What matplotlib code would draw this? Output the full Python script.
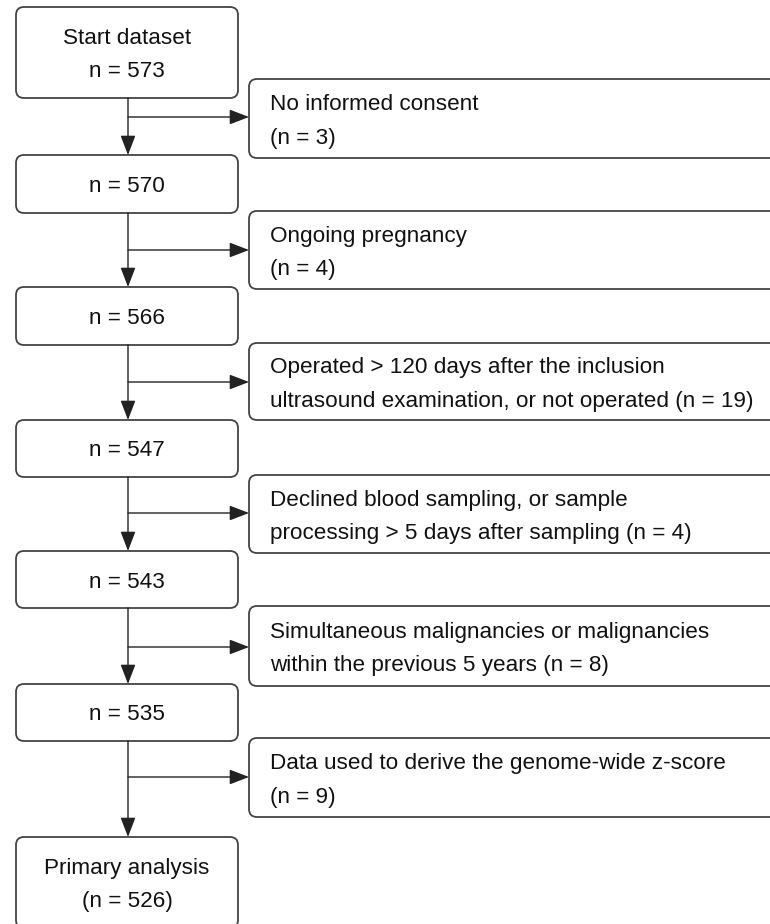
import matplotlib.pyplot as plt
from matplotlib.patches import FancyBboxPatch

# Flow of participants: main boxes on the left, exclusions on the right.
main_labels = ["Start dataset\nn = 573", "n = 570", "n = 566", "n = 547",
               "n = 543", "n = 535", "Primary analysis\n(n = 526)"]
excluded_labels = [
    "No informed consent\n(n = 3)",
    "Ongoing pregnancy\n(n = 4)",
    "Operated > 120 days after the inclusion\nultrasound examination, or not operated (n = 19)",
    "Declined blood sampling, or sample\nprocessing > 5 days after sampling (n = 4)",
    "Simultaneous malignancies or malignancies\nwithin the previous 5 years (n = 8)",
    "Data used to derive the genome-wide z-score\n(n = 9)",
]

# layout in pixels (y grows downward)
main_top = [7, 155, 287, 420, 551, 684, 837]
main_bottom = [98, 213, 345, 477, 608, 741, 928]
side_top = [79, 211, 343, 475, 606, 738]
side_bottom = [158, 289, 420, 553, 686, 817]
branch_y = [117, 250, 382, 513, 647, 777]

main_x0, main_x1 = 16, 238
side_x0, side_x1 = 249, 800
stem_x = 128

edge = "#444444"
line = "#222222"

plt.rcParams['font.family'] = ['Liberation Sans', 'DejaVu Sans']

fig = plt.figure(figsize=(7.7, 9.24), dpi=100)
ax = fig.add_axes([0, 0, 1, 1])
ax.set_xlim(0, 770)
ax.set_ylim(924, 0)
ax.axis("off")

for label, top, bottom in zip(main_labels, main_top, main_bottom):
    box = FancyBboxPatch((main_x0, top), main_x1 - main_x0, bottom - top,
                         boxstyle="round,pad=0,rounding_size=8",
                         fc="white", ec=edge, lw=1.3)
    ax.add_patch(box)
    ax.text((main_x0 + main_x1) / 2, (top + bottom) / 2 + 2.5, label,
            ha="center", va="center", fontsize=16.2, linespacing=1.75, color="#111111")

for label, top, bottom in zip(excluded_labels, side_top, side_bottom):
    box = FancyBboxPatch((side_x0, top), side_x1 - side_x0, bottom - top,
                         boxstyle="round,pad=0,rounding_size=8",
                         fc="white", ec=edge, lw=1.3)
    ax.add_patch(box)
    ax.text(side_x0 + 21, (top + bottom) / 2 + 3, label,
            ha="left", va="center", fontsize=16.2, linespacing=1.8, color="#111111")

arrow = dict(arrowstyle="-|>,head_length=12,head_width=4.6", mutation_scale=1,
             color=line, lw=1.0, shrinkA=0, shrinkB=0)

for i in range(len(branch_y)):
    # down to the next main box
    ax.annotate("", xy=(stem_x, main_top[i + 1]), xytext=(stem_x, main_bottom[i]),
                arrowprops=arrow)
    # sideways to the exclusion box
    ax.annotate("", xy=(side_x0, branch_y[i]), xytext=(stem_x, branch_y[i]),
                arrowprops=arrow)

fig.savefig("out.png", dpi=100)
